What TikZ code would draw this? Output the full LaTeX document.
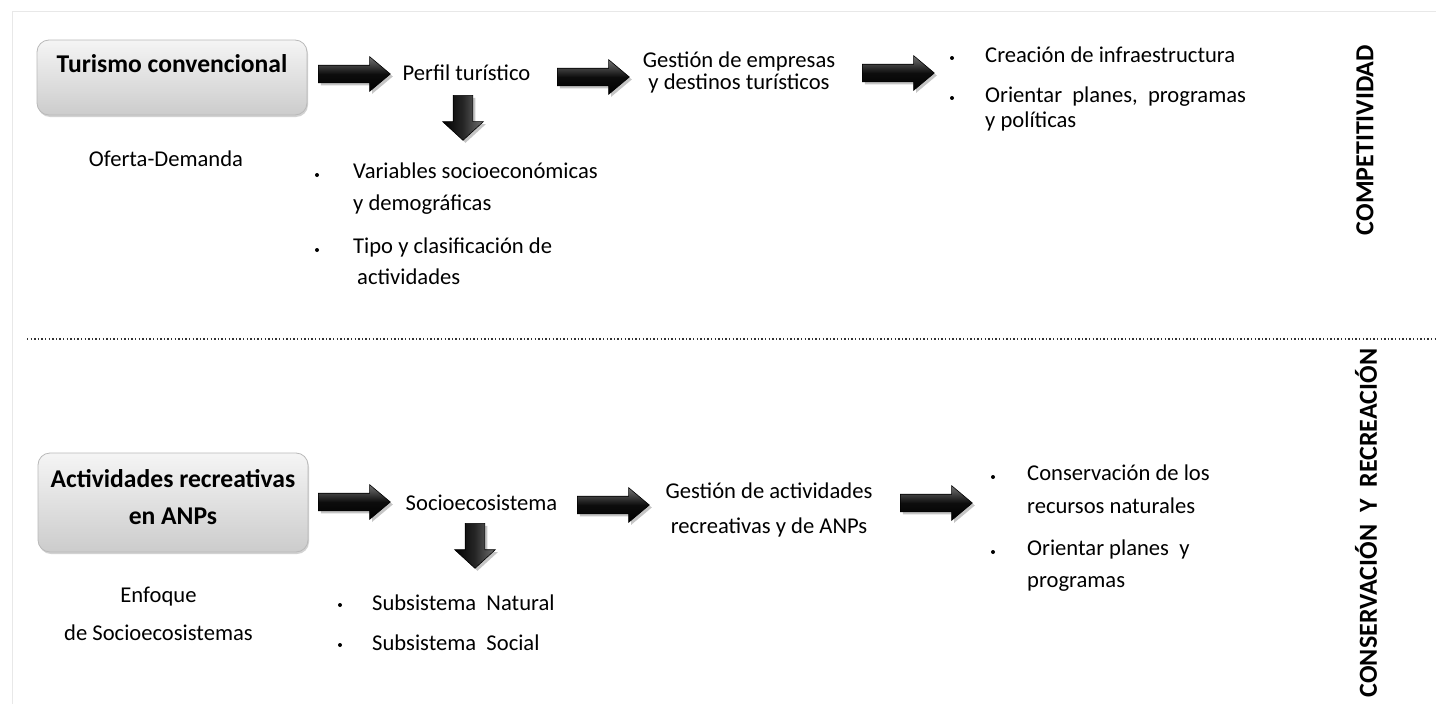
\documentclass[tikz,border=0pt]{standalone}
\usepackage{fontspec}
\setmainfont{Carlito}
\usetikzlibrary{shapes.arrows,shadows}
\begin{document}
\begin{tikzpicture}[x=1pt,y=-1pt,
  ltxt/.style={inner sep=0pt, align=left, anchor=base west},
  ctxt/.style={inner sep=0pt, align=center, anchor=base},
  boldtxt/.style={inner sep=0pt, align=center, anchor=base, font=\fontsize{25.6}{37}\selectfont\bfseries},
  sidetxt/.style={inner sep=0pt, rotate=90, font=\fontsize{26}{26}\selectfont\bfseries},
  dot/.style={circle, fill=black, inner sep=0pt, minimum size=4pt},
  bigbox/.style={rounded corners=12pt, draw=gray!55, line width=0.8pt,
    top color=gray!8, bottom color=gray!40, minimum width=270pt,
    drop shadow={shadow xshift=1pt, shadow yshift=-2pt, opacity=0.35}},
  rarrow/.style={single arrow, draw=black, line width=0.6pt, inner sep=8.5pt,
    single arrow head extend=8.5pt, single arrow tip angle=80,
    minimum height=72pt, anchor=tail,
    top color=black!55, bottom color=black, middle color=black!95,
    drop shadow={shadow xshift=2.5pt, shadow yshift=-2.5pt, opacity=0.45}},
  darrow/.style={single arrow, shape border rotate=270, draw=black, line width=0.6pt,
    inner sep=9.5pt, single arrow head extend=10.5pt, single arrow tip angle=95,
    minimum height=45pt, anchor=tail,
    left color=black, right color=black!55, middle color=black!85,
    drop shadow={shadow xshift=2.5pt, shadow yshift=-2.5pt, opacity=0.45}}
]
\useasboundingbox (0,0) rectangle (1436,704);
\fill[white] (0,0) rectangle (1436,704);
% faint frame
\coordinate (frTR) at (1436,11);
\coordinate (frTL) at (12,11);
\coordinate (frBL) at (12,704);
\draw[gray!18, line width=1pt] (frTR) -- (frTL) -- (frBL);
% dotted separator
\coordinate (sepL) at (27,339);
\coordinate (sepR) at (1436,339);
\draw[black!80, line width=1.3pt, dash pattern=on 1.3pt off 2.3pt] (sepL) -- (sepR);

% ---------- top row ----------
\node[bigbox, minimum height=75pt] (box1) at (172,77.5) {};
\node[boldtxt] (box1t) at (172,72) {Turismo convencional};
\node[ctxt, font=\fontsize{22.6}{22}\selectfont] (oferta) at (166,166) {Oferta-Demanda};

\node[rarrow] (a1) at (318,74) {};
\node[ctxt, font=\fontsize{22.6}{22}\selectfont] (perfil) at (466.5,80) {Perfil turístico};
\node[darrow] (d1) at (463,95) {};

\node[dot] (p1) at (317,175) {};
\node[ltxt, font=\fontsize{22.6}{32}\selectfont] (p1t) at (353,210) {Variables socioeconómicas\\y demográficas};
\node[dot] (p2) at (317,250) {};
\node[ltxt, font=\fontsize{22.6}{31}\selectfont] (p2t) at (353,284) {Tipo y clasificación de\\\hspace*{4pt}actividades};

\node[rarrow] (a2) at (557,77) {};
\node[ctxt, font=\fontsize{22.6}{22}\selectfont] (gest1) at (739,89) {Gestión de empresas\\y destinos turísticos};

\node[rarrow] (a3) at (862,73) {};
\node[dot] (r1) at (952,58) {};
\node[ltxt, font=\fontsize{22.6}{25}\selectfont] (r1t) at (985,62) {Creación de infraestructura};
\node[dot] (r2) at (952,98) {};
\node[ltxt, font=\fontsize{22.6}{25}\selectfont] (r2t) at (985,127) {Orientar\ \ planes,\ \ programas\\y políticas};

\node[sidetxt] (comp) at (1365,140) {COMPETITIVIDAD};

% ---------- bottom row ----------
\node[bigbox, minimum height=99pt] (box2) at (173,502.5) {};
\node[boldtxt] (box2t) at (173,524) {Actividades recreativas\\en ANPs};
\node[ctxt, font=\fontsize{22.6}{38}\selectfont] (enf) at (158.5,640) {Enfoque\\de Socioecosistemas};

\node[rarrow] (b1) at (318,502) {};
\node[ctxt, font=\fontsize{22.6}{22}\selectfont] (socio) at (481.5,510) {Socioecosistema};
\node[darrow] (d2) at (475,523) {};

\node[dot] (s1) at (340,605) {};
\node[ltxt, font=\fontsize{22.6}{22}\selectfont] (s1t) at (372,610) {Subsistema\ \ Natural};
\node[dot] (s2) at (340,645) {};
\node[ltxt, font=\fontsize{22.6}{22}\selectfont] (s2t) at (372,650) {Subsistema\ \ Social};

\node[rarrow] (b2) at (577,505) {};
\node[ctxt, font=\fontsize{22.6}{35}\selectfont] (gest2) at (769,533) {Gestión de actividades\\recreativas y de ANPs};

\node[rarrow] (b3) at (900,503) {};
\node[dot] (c1) at (993,477) {};
\node[ltxt, font=\fontsize{22.6}{33}\selectfont] (c1t) at (1027,513) {Conservación de los\\recursos naturales};
\node[dot] (c2) at (993,552) {};
\node[ltxt, font=\fontsize{22.6}{32}\selectfont] (c2t) at (1027,587) {Orientar planes\ \ y\\programas};

\node[sidetxt] (cons) at (1366,523) {CONSERVACIÓN\hspace{0.46em}Y\hspace{0.46em}RECREACIÓN};
\end{tikzpicture}
\end{document}
